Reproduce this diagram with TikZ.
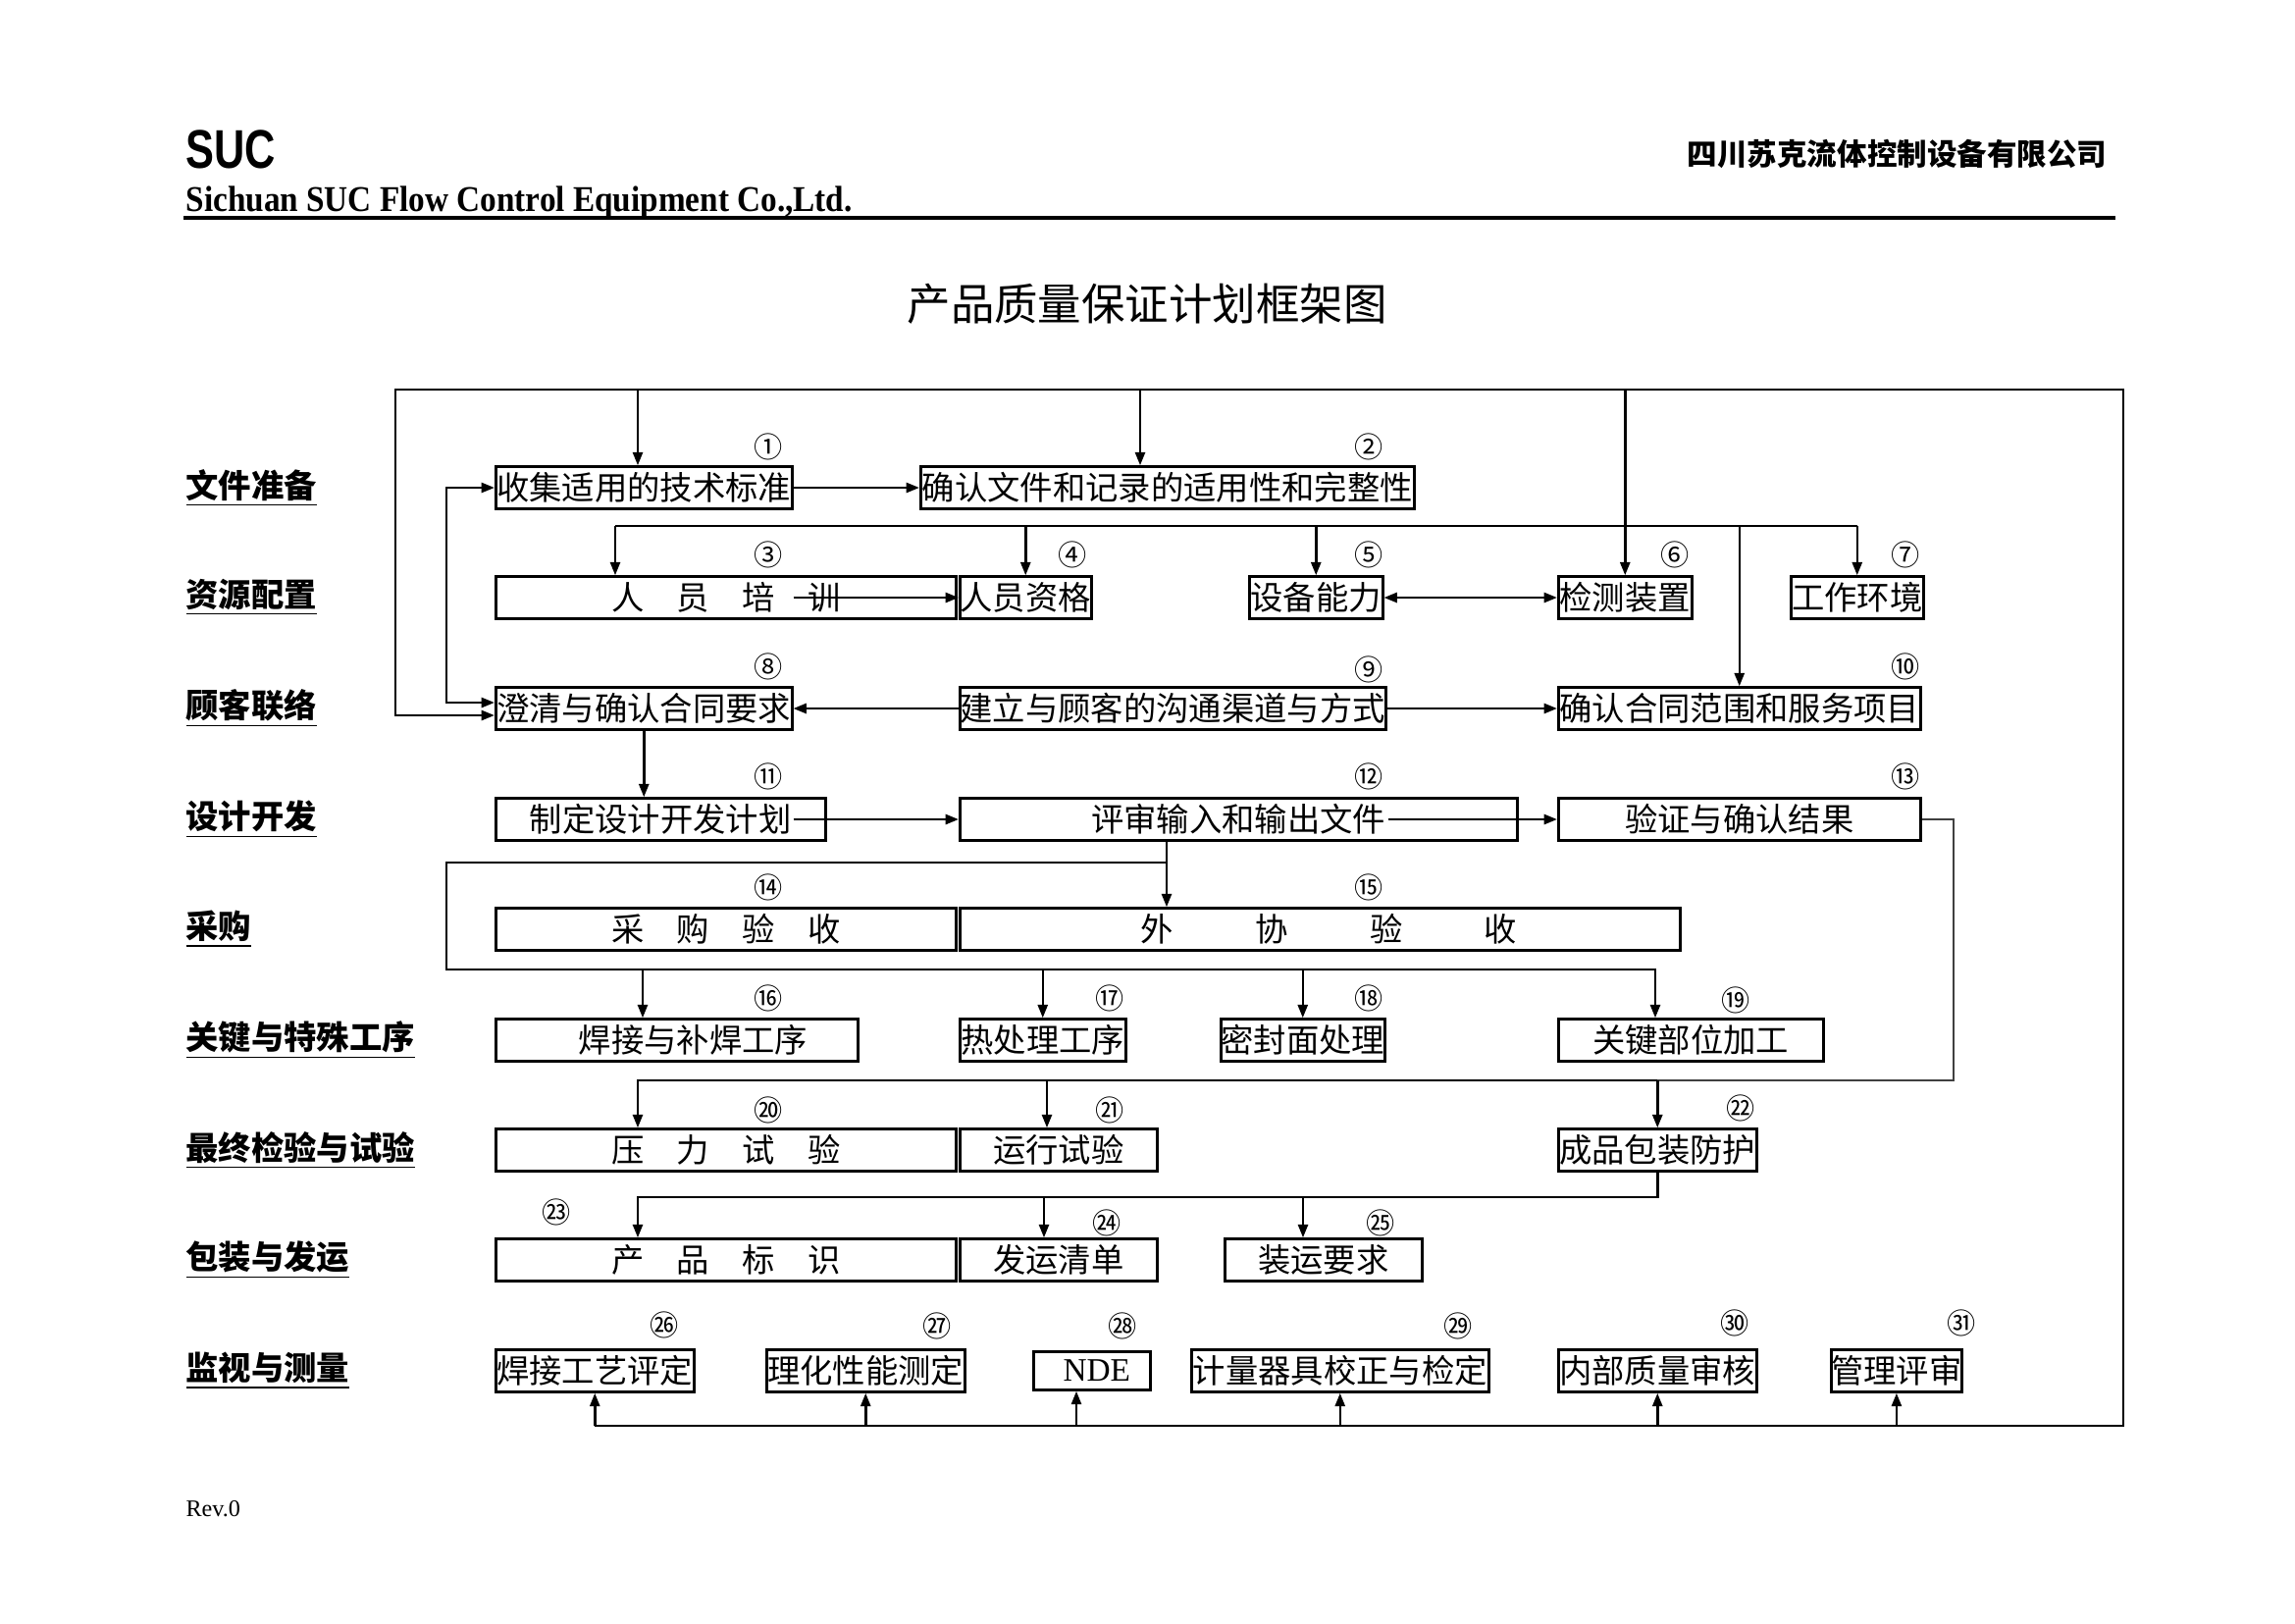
\documentclass[tikz,border=0pt]{standalone}
\usepackage{fontspec}
\usepackage{graphicx}
\setmainfont{Liberation Serif}
\newfontfamily\cjk{Noto Sans CJK SC}
\newfontfamily\arialf{Liberation Sans}
\usetikzlibrary{arrows.meta,calc}
\tikzset{
  box/.style={draw, line width=0.9pt, minimum height=43*0.36pt, inner sep=0pt, anchor=west, font=\cjk\fontsize{12}{14}\selectfont},
  bw/.style={minimum width=#1*0.36pt},
  num/.style={inner sep=0pt, font=\cjk\fontsize{10.5}{11}\selectfont},
  lab/.style={anchor=west, inner sep=0pt, font=\cjk\bfseries\fontsize{12}{14}\selectfont},
  ln/.style={line width=0.9pt},
  ar/.style={ln, ->},
  ar2/.style={ln, <->},
  thinln/.style={line width=0.45pt, black!75},
}
\begin{document}
\begin{tikzpicture}[x=0.36pt, y=-0.36pt, >={Triangle[length=4.8pt,width=3.6pt]}]
\useasboundingbox (0,0) rectangle (2339,1654);
% ---------- header ----------
\node[anchor=base west, inner sep=0pt] (suc) at (189,171) {\arialf\bfseries\fontsize{20}{24}\selectfont\scalebox{0.78}[1]{SUC}};
\node[anchor=base west, inner sep=0pt] (eng) at (189,215) {\fontsize{13.3}{15}\selectfont\bfseries\scalebox{0.9}[1]{Sichuan SUC Flow Control Equipment Co.,Ltd.}};
\node[anchor=east, inner sep=0pt] (cn) at (2148,157) {\cjk\bfseries\fontsize{11}{13}\selectfont 四川苏克流体控制设备有限公司};
\draw[line width=1.1pt] (187,222) -- (2156,222);
\node[inner sep=0pt] (title) at (1169,310) {\cjk\fontsize{16}{18}\selectfont 产品质量保证计划框架图};
\node[anchor=west, inner sep=0pt] (rev) at (189,1538) {\fontsize{8.7}{10}\selectfont Rev.0};
% ---------- row labels ----------
\node[lab] (L1) at (189,497) {\underline{文件准备}};
\node[lab] (L2) at (189,609) {\underline{资源配置}};
\node[lab] (L3) at (189,722) {\underline{顾客联络}};
\node[lab] (L4) at (189,835) {\underline{设计开发}};
\node[lab] (L5) at (189,947) {\underline{采购}};
\node[lab] (L6) at (189,1060) {\underline{关键与特殊工序}};
\node[lab] (L7) at (189,1172) {\underline{最终检验与试验}};
\node[lab] (L8) at (189,1284) {\underline{包装与发运}};
\node[lab] (L9) at (189,1397) {\underline{监视与测量}};
% ---------- boxes ----------
\node[box,bw=302] (b1) at (504,497) {收集适用的技术标准};
\node[box,bw=503] (b2) at (937,497) {确认文件和记录的适用性和完整性};
\node[box,bw=469] (b3) at (504,609) {人　员　培　训\hspace{1em}};
\node[box,bw=134] (b4) at (977,609) {人员资格};
\node[box,bw=136] (b5) at (1272,609) {设备能力};
\node[box,bw=136] (b6) at (1587,609) {检测装置};
\node[box,bw=135] (b7) at (1824,609) {工作环境};
\node[box,bw=302] (b8) at (504,722) {澄清与确认合同要求};
\node[box,bw=434] (b9) at (977,722) {建立与顾客的沟通渠道与方式};
\node[box,bw=369] (b10) at (1587,722) {确认合同范围和服务项目};
\node[box,bw=336] (b11) at (504,835) {制定设计开发计划};
\node[box,bw=568] (b12) at (977,835) {评审输入和输出文件\hspace{1em}};
\node[box,bw=369] (b13) at (1587,835) {验证与确认结果};
\node[box,bw=469] (b14) at (504,947) {采　购　验　收};
\node[box,bw=734] (b15) at (977,947) {\hspace{0.55em}外\hspace{2.5em}协\hspace{2.5em}验\hspace{2.5em}收};
\node[box,bw=369] (b16) at (504,1060) {\hspace{1em}焊接与补焊工序};
\node[box,bw=169] (b17) at (977,1060) {热处理工序};
\node[box,bw=167] (b18) at (1243,1060) {密封面处理};
\node[box,bw=270] (b19) at (1587,1060) {关键部位加工};
\node[box,bw=469] (b20) at (504,1172) {压　力　试　验};
\node[box,bw=201] (b21) at (977,1172) {运行试验};
\node[box,bw=202] (b22) at (1587,1172) {成品包装防护};
\node[box,bw=469] (b23) at (504,1284) {产　品　标　识};
\node[box,bw=201] (b24) at (977,1284) {发运清单};
\node[box,bw=201] (b25) at (1247,1284) {装运要求};
\node[box,bw=202] (b26) at (504,1397) {焊接工艺评定};
\node[box,bw=202] (b27) at (780,1397) {理化性能测定};
\node[box,bw=119,minimum height=39*0.36pt,font=\fontsize{12}{14}\selectfont] (b28) at (1052,1397) {\hspace{0.3em}NDE};
\node[box,bw=303] (b29) at (1213,1397) {计量器具校正与检定};
\node[box,bw=202] (b30) at (1587,1397) {内部质量审核};
\node[box,bw=132] (b31) at (1865,1397) {管理评审};
% ---------- circled numbers ----------
\foreach \t/\x/\y [count=\i] in {①/783/455, ②/1395/455, ③/783/565, ④/1093/565, ⑤/1395/565, ⑥/1707/565, ⑦/1942/565, ⑧/783/679, ⑨/1395/682, ⑩/1942/679, ⑪/783/791, ⑫/1395/791, ⑬/1942/791, ⑭/783/904, ⑮/1395/904, ⑯/783/1017, ⑰/1131/1017, ⑱/1395/1017, ⑲/1769/1019, ⑳/783/1131, ㉑/1131/1131, ㉒/1774/1129, ㉓/567/1235, ㉔/1128/1246, ㉕/1407/1246, ㉖/677/1350, ㉗/955/1351, ㉘/1144/1351, ㉙/1486/1351, ㉚/1768/1348, ㉛/1999/1348}
  \node[num] (n\i) at (\x,\y) {\t};
% ---------- helper coordinates ----------
\coordinate (ftl) at (403,397);
\coordinate (ftr) at (2164,397);
\coordinate (fbr) at (2164,1453);
\coordinate (fb) at (0,1453);
\coordinate (r2) at (0,536);
\coordinate (r5t) at (0,879);
\coordinate (r5b) at (0,988);
\coordinate (r7) at (0,1101);
\coordinate (r8) at (0,1220);
\foreach \v in {455,627,650,655,1064,1067,1097,1162,1189,1328,1687,1991}
  \coordinate (x\v) at (\v,0);
\coordinate (b8lo) at ($(b8.west)+(0,7)$);
\coordinate (b8hi) at ($(b8.west)+(0,-6)$);
% ---------- outer feedback frame ----------
\draw[ar] (b26.south |- fb) -- (fbr) -- (ftr) -- (ftl) -- (ftl |- b8lo) -- (b8lo);
\draw[ar2] (b1.west) -- (x455 |- b1.west) -- (x455 |- b8hi) -- (b8hi);
\draw[ar] (x650 |- ftl) -- (x650 |- b1.north);
\draw[ar] (x1162 |- ftl) -- (x1162 |- b2.north);
\draw[ar] (b6.north |- ftl) -- (b6.north);
% ---------- row 1 / 2 ----------
\draw[ar] (b1.east) -- (b2.west);
\draw[ln] (x627 |- r2) -- (b7.north |- r2);
\draw[ar] (x627 |- r2) -- (x627 |- b3.north);
\draw[ar] (b4.north |- r2) -- (b4.north);
\draw[ar] (b5.north |- r2) -- (b5.north);
\draw[ar] (b10.north |- r2) -- (b10.north);
\draw[ar] (b7.north |- r2) -- (b7.north);
\draw[ar] ($(b3.east)+(-167,0)$) -- (b4.west);
\draw[ar2] (b5.east) -- (b6.west);
% ---------- row 3 / 4 ----------
\draw[ar] (b9.west) -- (b8.east);
\draw[ar] (b9.east) -- (b10.west);
\draw[ar] (b8.south) -- (b8.south |- b11.north);
\draw[ar] ($(b11.east)+(-34,0)$) -- (b12.west);
\draw[ar] ($(b12.east)+(-133,0)$) -- (b13.west);
\draw[thinln] (b13.east) -- (x1991 |- b13.east) -- (x1991 |- r7) -- (b22.north |- r7);
% ---------- row 5 / 6 ----------
\draw[ar] (x1189 |- b12.south) -- (x1189 |- b15.north);
\draw[ar] (x1189 |- r5t) -- (x455 |- r5t) -- (x455 |- r5b) -- (x1687 |- r5b) -- (x1687 |- b19.north);
\draw[ar] (x655 |- r5b) -- (x655 |- b16.north);
\draw[ar] (b17.north |- r5b) -- (b17.north);
\draw[ar] (b18.north |- r5b) -- (b18.north);
% ---------- row 7 ----------
\draw[ar] (b22.north |- r7) -- (x650 |- r7) -- (x650 |- b20.north);
\draw[ar] (x1067 |- r7) -- (x1067 |- b21.north);
\draw[ar] (b22.north |- r7) -- (b22.north);
% ---------- row 8 ----------
\draw[ar] (b22.south) -- (b22.south |- r8) -- (x650 |- r8) -- (x650 |- b23.north);
\draw[ar] (x1064 |- r8) -- (x1064 |- b24.north);
\draw[ar] (x1328 |- r8) -- (x1328 |- b25.north);
% ---------- row 9 ----------
\draw[ar] (b26.south |- fb) -- (b26.south);
\draw[ar] (b27.south |- fb) -- (b27.south);
\draw[ar] (x1097 |- fb) -- (x1097 |- b28.south);
\draw[ar] (b29.south |- fb) -- (b29.south);
\draw[ar] (b30.south |- fb) -- (b30.south);
\draw[ar] (b31.south |- fb) -- (b31.south);
\end{tikzpicture}
\end{document}
